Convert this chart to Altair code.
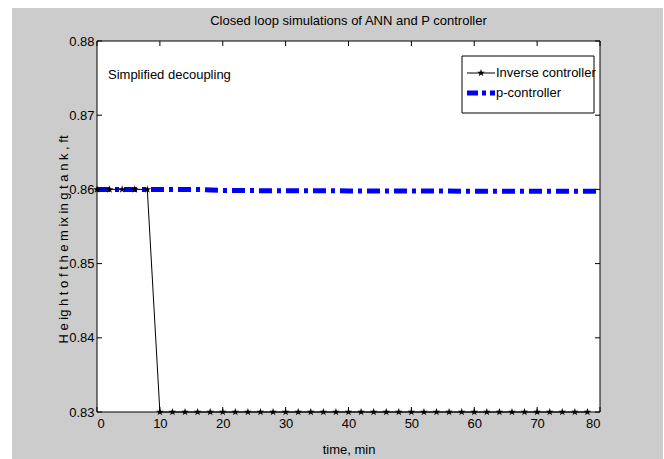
import altair as alt
import pandas as pd

# ---- data ----
inv_time = [0, 2, 4, 6, 8, 10, 12, 14, 16, 18, 20, 22, 24, 26, 28, 30, 32, 34, 36, 38,
            40, 42, 44, 46, 48, 50, 52, 54, 56, 58, 60, 62, 64, 66, 68, 70, 72, 74, 76, 78]
inv_height = [0.86, 0.86, 0.86, 0.86, 0.86, 0.83, 0.83, 0.83, 0.83, 0.83,
              0.83, 0.83, 0.83, 0.83, 0.83, 0.83, 0.83, 0.83, 0.83, 0.83,
              0.83, 0.83, 0.83, 0.83, 0.83, 0.83, 0.83, 0.83, 0.83, 0.83,
              0.83, 0.83, 0.83, 0.83, 0.83, 0.83, 0.83, 0.83, 0.83, 0.83]
p_time = [0, 10, 16, 20, 30, 40, 50, 60, 70, 80]
p_height = [0.8600, 0.8600, 0.8600, 0.85985, 0.85982, 0.85980, 0.85978, 0.85976, 0.85975, 0.85974]
x_ticks = [0, 10, 20, 30, 40, 50, 60, 70, 80]
y_ticks = [0.83, 0.84, 0.85, 0.86, 0.87, 0.88]
legend_labels = ["Inverse controller", "p-controller"]
annotation = "Simplified decoupling"
title_text = "Closed loop simulations of ANN and P controller"
x_title = "time, min"
y_title = "H e ig h t o f t h e   m ix in g   t a n k  , ft"

FONT = "Liberation Sans, Arial, sans-serif"
FS = 13
W, H = 503, 371
STAR = ("M0,-1L0.2245,-0.309L0.951,-0.309L0.3633,0.118L0.5878,0.809L0,0.382"
        "L-0.5878,0.809L-0.3633,0.118L-0.951,-0.309L-0.2245,-0.309Z")

inv_df = pd.DataFrame({"t": inv_time, "h": inv_height})
p_df = pd.DataFrame({"t": p_time, "h": p_height})
xt_df = pd.DataFrame({"t": x_ticks})
yt_df = pd.DataFrame({"h": y_ticks})
one = pd.DataFrame({"a": [0]})

xs = alt.Scale(domain=[0, 80], nice=False, zero=False)
ys = alt.Scale(domain=[0.83, 0.88], nice=False, zero=False)

x_axis = alt.Axis(values=x_ticks, format="d", title=x_title, ticks=False, grid=False,
                  domain=False, labelPadding=5, titleBaseline="middle", titleY=37,
                  titleFontWeight="normal", zindex=2)
y_axis = alt.Axis(values=y_ticks, format=".2f", title=y_title, ticks=False, grid=False,
                  domain=False, labelPadding=3, titleAngle=270, titleX=-34, titleY=198,
                  titleBaseline="middle", titleAlign="center", titleFontWeight="normal",
                  zindex=2)

# background decorations
gray = alt.Chart(one).mark_rect(color="#cccccc", clip=False).encode(
    x=alt.value(-85), x2=alt.value(566), y=alt.value(-33), y2=alt.value(420))
white = alt.Chart(one).mark_rect(color="white").encode(
    x=alt.value(0), x2=alt.value(W), y=alt.value(0), y2=alt.value(H))

p_line = alt.Chart(p_df).mark_line(color="#0000ff", strokeWidth=5, strokeDash=[13, 5, 4, 5],
                                   clip=False).encode(
    x=alt.X("t:Q", scale=xs, axis=x_axis),
    y=alt.Y("h:Q", scale=ys, axis=y_axis))
inv_line = alt.Chart(inv_df).mark_line(color="black", strokeWidth=1, clip=False).encode(
    x=alt.X("t:Q", scale=xs), y=alt.Y("h:Q", scale=ys))
inv_pts = alt.Chart(inv_df).mark_point(shape=STAR, filled=True, color="black", size=65,
                                       opacity=1, clip=False).encode(
    x=alt.X("t:Q", scale=xs), y=alt.Y("h:Q", scale=ys))

# frame
frame = alt.Chart(one).mark_rect(fill=None, stroke="black", strokeWidth=1).encode(
    x=alt.value(0), x2=alt.value(W), y=alt.value(0), y2=alt.value(H))

# inward ticks on all four sides
tk = 5
xb = alt.Chart(xt_df).mark_rule(color="black").encode(
    x=alt.X("t:Q", scale=xs), y=alt.value(H), y2=alt.value(H - tk))
xtp = alt.Chart(xt_df).mark_rule(color="black").encode(
    x=alt.X("t:Q", scale=xs), y=alt.value(0), y2=alt.value(tk))
yl = alt.Chart(yt_df).mark_rule(color="black").encode(
    y=alt.Y("h:Q", scale=ys), x=alt.value(0), x2=alt.value(tk))
yr = alt.Chart(yt_df).mark_rule(color="black").encode(
    y=alt.Y("h:Q", scale=ys), x=alt.value(W), x2=alt.value(W - tk))

# title and annotation
ttl = alt.Chart(one).mark_text(text=title_text, font=FONT, fontSize=FS, align="center",
                               baseline="middle", color="black", clip=False).encode(
    x=alt.value(W / 2), y=alt.value(-20))
ann = alt.Chart(one).mark_text(text=annotation, font=FONT, fontSize=FS, align="left",
                               baseline="middle", color="black").encode(
    x=alt.value(11), y=alt.value(34))

# legend
lg_box = alt.Chart(one).mark_rect(fill="white", stroke="black", strokeWidth=1).encode(
    x=alt.value(365), x2=alt.value(497), y=alt.value(15), y2=alt.value(72))
lg_l1 = alt.Chart(one).mark_rule(color="black", strokeWidth=1).encode(
    x=alt.value(370), x2=alt.value(398), y=alt.value(32))
lg_s1 = alt.Chart(one).mark_point(shape=STAR, filled=True, color="black", size=65,
                                  opacity=1).encode(x=alt.value(384), y=alt.value(32))
lg_l2 = alt.Chart(one).mark_rule(color="#0000ff", strokeWidth=5, strokeDash=[11, 4, 4, 4]).encode(
    x=alt.value(370), x2=alt.value(398), y=alt.value(52))
lg_t1 = alt.Chart(one).mark_text(text=legend_labels[0], font=FONT, fontSize=FS, align="left",
                                 baseline="middle", color="black").encode(
    x=alt.value(399), y=alt.value(32))
lg_t2 = alt.Chart(one).mark_text(text=legend_labels[1], font=FONT, fontSize=FS, align="left",
                                 baseline="middle", color="black").encode(
    x=alt.value(399), y=alt.value(52))

chart = alt.layer(
    gray, white, p_line, inv_line, inv_pts, frame, xb, xtp, yl, yr, ttl, ann,
    lg_box, lg_l1, lg_s1, lg_l2, lg_t1, lg_t2
).properties(
    width=W, height=H,
    autosize=alt.AutoSizeParams(type="none"),
    padding={"left": 97, "top": 41, "right": 64, "bottom": 47},
    background="white",
).configure_view(
    stroke=None
).configure_axis(
    labelFont=FONT, labelFontSize=FS, labelColor="black", titleFont=FONT,
    titleFontSize=FS, titleColor="black"
)

chart.save("out.html", embed_options={"renderer": "svg", "actions": False})
